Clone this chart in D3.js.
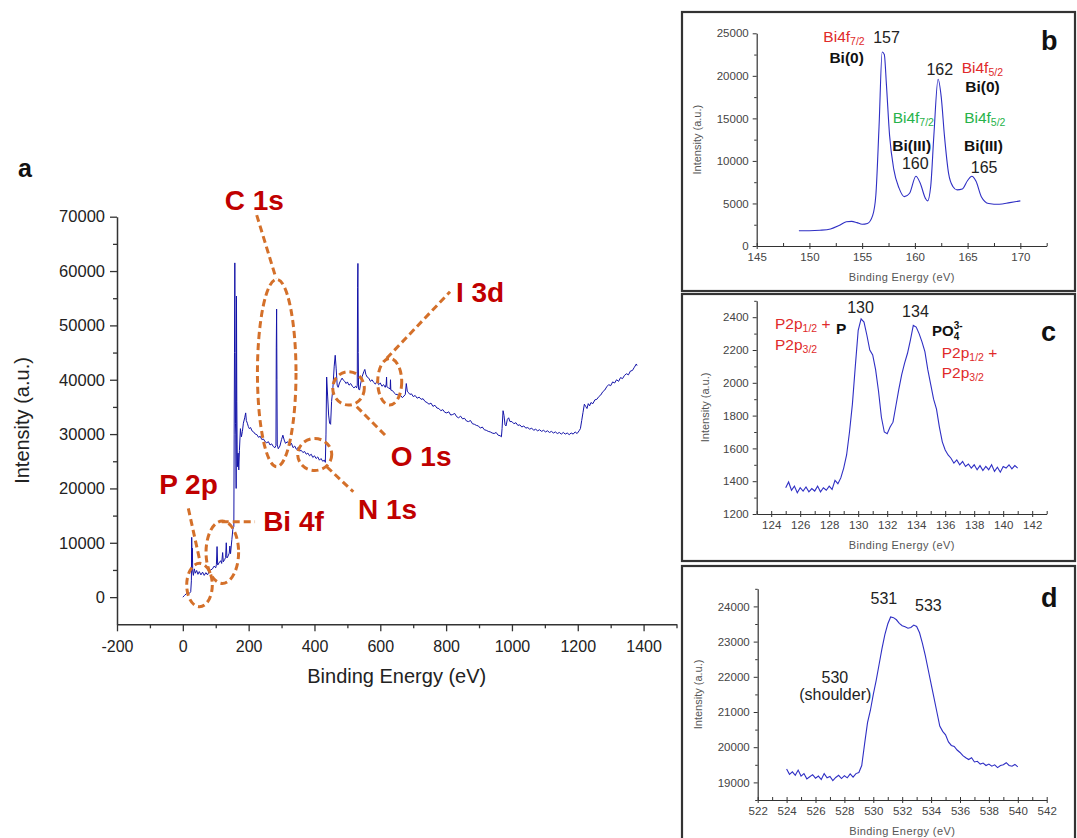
<!DOCTYPE html>
<html><head><meta charset="utf-8">
<script src="https://cdn.jsdelivr.net/npm/d3@7"></script>
<style>
body{margin:0;background:#fff}
svg{display:block;font-family:"Liberation Sans",Arial,sans-serif}
</style>
</head><body>
<svg id="chart" width="1077" height="838"></svg>
<script>
// ---------------- DATA ----------------
// Panel a: XPS survey spectrum [binding energy (eV), intensity (a.u.)]
const survey = [[0,0],[5,300],[10,600],[15,800],[20,700],[24,1000],[26,3000],[27,11000],[28,6500],[29,9000],[30,4800],[32,4000],[35,5200],[38,4400],[42,4900],[46,4200],[50,4700],[55,4100],[60,4600],[65,4000],[70,4500],[75,4100],[80,4700],[85,5000],[90,5200],[95,5700],[100,5400],[102,6000],[104,9300],[106,5900],[110,6300],[115,6700],[118,6200],[121,8200],[123,6500],[127,6900],[130,7300],[132,10000],[134,7200],[138,7600],[141,8100],[143,9400],[145,8000],[149,10600],[152,12500],[155,13000],[156,30000],[157,45000],[158,61500],[159,45000],[160,32000],[161,30000],[162,20000],[163,55400],[164,36000],[165,28000],[166,24000],[168,26500],[170,23400],[172,27000],[175,31000],[178,29500],[181,30500],[184,32000],[188,33000],[191,33900],[193,32500],[196,32000],[199,31400],[202,31000],[206,31200],[210,30600],[215,30400],[220,30000],[225,29900],[230,29400],[235,29600],[240,29000],[245,29100],[250,28600],[255,28400],[260,28600],[265,28000],[270,28200],[275,27700],[280,27500],[283,27900],[284,46000],[285,53000],[286,40000],[287,28000],[290,27300],[295,27800],[300,29000],[304,29800],[308,28900],[312,28300],[318,28600],[325,27900],[330,28300],[335,27500],[340,27800],[345,27200],[350,27500],[355,26900],[360,27000],[365,26600],[370,26800],[375,26300],[380,26500],[385,26000],[390,26300],[395,25700],[400,26000],[405,25500],[410,25800],[415,25200],[420,25500],[425,25000],[430,25200],[433,24800],[435,30000],[437,40500],[440,37000],[443,33500],[446,32000],[449,31800],[452,36000],[456,38500],[460,42500],[463,44500],[466,42000],[469,39000],[472,38600],[476,39400],[480,39900],[484,40300],[488,39900],[492,39700],[496,39300],[500,39600],[505,39000],[510,39300],[515,38800],[520,38500],[525,38800],[528,38500],[530,39000],[531,57000],[532,61400],[533,45000],[534,38300],[537,38100],[540,39200],[545,40600],[550,41500],[553,41900],[556,41000],[560,40500],[565,40300],[570,39700],[575,40000],[580,39500],[585,39200],[590,39700],[595,39100],[600,39400],[605,38800],[610,39100],[615,38600],[618,39200],[619,40500],[620,38700],[625,38500],[630,38300],[631,40000],[632,38100],[637,38000],[642,37600],[647,37300],[652,37300],[657,36900],[662,37100],[667,36700],[672,37000],[676,37300],[679,39300],[682,37900],[686,37600],[690,37300],[695,37400],[700,36900],[706,37100],[712,36600],[718,36800],[724,36400],[730,36500],[736,36000],[742,35800],[748,35500],[754,35700],[760,35100],[766,35300],[772,34800],[778,34700],[784,34300],[790,34500],[796,34000],[802,33900],[808,34100],[814,33500],[820,33600],[826,33800],[832,33200],[838,33000],[844,33300],[850,32800],[856,32900],[862,32400],[868,32300],[874,32500],[880,31900],[886,31800],[892,31600],[898,31500],[904,31100],[910,31300],[916,30800],[922,30700],[928,30500],[934,30400],[940,30200],[946,30100],[952,30300],[958,29800],[964,29700],[968,29500],[970,31000],[973,34300],[976,33400],[979,31700],[982,31500],[986,32700],[990,33000],[994,32300],[1000,32300],[1006,31900],[1012,32100],[1018,31600],[1024,31700],[1030,31300],[1036,31500],[1042,31100],[1048,31200],[1054,30900],[1060,31100],[1066,30700],[1072,30900],[1078,30600],[1084,30800],[1090,30500],[1096,30700],[1102,30400],[1108,30600],[1114,30300],[1120,30500],[1126,30200],[1132,30400],[1138,30100],[1144,30300],[1150,30000],[1156,30300],[1162,30000],[1168,30200],[1174,29900],[1180,30200],[1186,30000],[1192,30400],[1198,30100],[1204,30600],[1208,31000],[1212,32500],[1216,34000],[1220,35500],[1224,35100],[1228,34700],[1232,35600],[1236,35200],[1240,35800],[1246,35600],[1252,36300],[1258,36400],[1264,36900],[1270,37200],[1276,37800],[1282,38100],[1288,38700],[1294,39100],[1300,38900],[1306,39600],[1312,39400],[1318,40000],[1324,39700],[1330,40400],[1336,40200],[1342,40800],[1348,41100],[1354,40900],[1360,41600],[1366,41700],[1372,42300],[1378,42900],[1380,42600]];

const mainXTicks = [-200, 0, 200, 400, 600, 800, 1000, 1200, 1400];
const mainYTicks = [0, 10000, 20000, 30000, 40000, 50000, 60000, 70000];

// Panel a annotations (data units: energy, intensity)
const peakLabels = ["C 1s", "N 1s", "O 1s", "I 3d", "Bi 4f", "P 2p"];
const labelAt   = [[217, 71200], [532, 14400], [632, 24100], [830, 54300], [244, 12150], [-72, 18950]];
const circleAt  = [[285.3, 41235, 58.6, 17240], [400.8, 26240, 51.7, 2944], [503.5, 38420, 48, 3073], [628.6, 39634, 36.5, 4287], [120, 8262, 49.5, 5741], [50.7, 2226, 38.9, 3993]];
const leaderAt  = [[224.5, 70300, 283.2, 58660], [437.2, 23994, 518, 19394], [528.4, 35034, 619.5, 29514], [619.5, 43940, 811.9, 56194], [118.2, 13874, 219.4, 13874], [16.7, 16340, 52.3, 6514]];

// Panel b: Bi 4f high-resolution
const bSpectrum = [[149.0,1800],[150,1800],[151,1850],[152,2000],[152.8,2400],[153.5,2850],[154,2900],[154.5,2750],[155,2550],[155.5,2650],[156,3600],[156.3,6000],[156.6,14000],[156.9,22800],[157.1,22500],[157.3,19000],[157.6,13000],[158,9000],[158.5,6800],[159,5800],[159.5,6200],[160.1,8200],[160.5,7400],[161,5600],[161.2,5300],[161.5,7000],[161.8,13000],[162.2,19600],[162.5,17500],[162.8,13000],[163.2,8500],[163.6,7000],[164,6600],[164.5,6700],[165,7700],[165.4,8200],[165.8,7600],[166.3,5800],[167,5000],[168,4900],[169,5100],[170,5300]];
const bXTicks = [145, 150, 155, 160, 165, 170];
const bYTicks = [0, 5000, 10000, 15000, 20000, 25000];

// Panel c: P 2p high-resolution
const cSpectrum = [[125.0,1360],[125.2,1395],[125.4,1345],[125.6,1370],[125.8,1330],[126.0,1360],[126.2,1340],[126.4,1365],[126.6,1335],[126.8,1355],[127.0,1340],[127.2,1370],[127.4,1335],[127.6,1360],[127.8,1345],[128.0,1370],[128.2,1350],[128.4,1405],[128.6,1385],[128.8,1420],[129.0,1480],[129.2,1560],[129.4,1700],[129.6,1870],[129.8,2100],[130.0,2320],[130.2,2390],[130.4,2370],[130.6,2290],[130.8,2200],[131.0,2170],[131.2,2080],[131.4,1950],[131.6,1790],[131.8,1700],[132.0,1690],[132.2,1730],[132.4,1760],[132.6,1860],[132.8,1960],[133.0,2050],[133.2,2120],[133.4,2180],[133.6,2260],[133.8,2350],[134.0,2340],[134.2,2300],[134.4,2250],[134.6,2190],[134.8,2080],[135.0,1990],[135.2,1900],[135.4,1840],[135.6,1730],[135.8,1640],[136.0,1590],[136.2,1560],[136.4,1540],[136.6,1510],[136.8,1530],[137.0,1500],[137.2,1520],[137.4,1490],[137.6,1505],[137.8,1480],[138.0,1500],[138.2,1470],[138.4,1495],[138.6,1465],[138.8,1490],[139.0,1470],[139.2,1500],[139.4,1460],[139.6,1485],[139.8,1455],[140.0,1490],[140.2,1480],[140.4,1500],[140.6,1475],[140.8,1495],[141.0,1480]];
const cXTicks = [124, 126, 128, 130, 132, 134, 136, 138, 140, 142];
const cYTicks = [1200, 1400, 1600, 1800, 2000, 2200, 2400];

// Panel d: O 1s high-resolution
const dSpectrum = [[524.0,19380],[524.2,19230],[524.4,19300],[524.6,19200],[524.8,19350],[525.0,19180],[525.2,19250],[525.4,19100],[525.6,19160],[525.8,19220],[526.0,19120],[526.2,19180],[526.4,19080],[526.6,19250],[526.8,19130],[527.0,19170],[527.2,19050],[527.4,19140],[527.6,19200],[527.8,19110],[528.0,19190],[528.2,19130],[528.4,19240],[528.6,19150],[528.8,19250],[529.0,19280],[529.2,19480],[529.4,20100],[529.6,20700],[529.8,21050],[530.0,21500],[530.2,21900],[530.4,22350],[530.6,22800],[530.8,23200],[531.0,23500],[531.2,23700],[531.4,23680],[531.6,23620],[531.8,23520],[532.0,23450],[532.2,23420],[532.4,23380],[532.6,23400],[532.8,23470],[533.0,23430],[533.2,23250],[533.4,22950],[533.6,22600],[533.8,22200],[534.0,21800],[534.2,21400],[534.4,21000],[534.6,20600],[534.8,20450],[535.0,20350],[535.2,20150],[535.4,20050],[535.6,20020],[535.8,19920],[536.0,19850],[536.2,19760],[536.4,19700],[536.6,19650],[536.8,19700],[537.0,19580],[537.2,19600],[537.4,19520],[537.6,19550],[537.8,19480],[538.0,19520],[538.2,19460],[538.4,19500],[538.6,19420],[538.8,19480],[539.0,19500],[539.2,19560],[539.4,19480],[539.6,19460],[539.8,19510],[540.0,19440]];
const dXTicks = [522, 524, 526, 528, 530, 532, 534, 536, 538, 540, 542];
const dYTicks = [19000, 20000, 21000, 22000, 23000, 24000];

// Inset annotations: [text-kind, energy, intensity]
const bNotes = [
  {t:"Bi4f|7/2", c:"red", at:[153.28, 23977]},
  {t:"157", c:"num", at:[157.31, 23860]},
  {t:"Bi(0)", c:"bold", at:[153.53, 21544]},
  {t:"162", c:"num", at:[162.36, 20099]},
  {t:"Bi4f|5/2", c:"red", at:[166.4, 20334]},
  {t:"Bi(0)", c:"bold", at:[166.41, 18100]},
  {t:"Bi4f|7/2", c:"green", at:[159.85, 14457]},
  {t:"Bi(III)", c:"bold", at:[159.7, 11166]},
  {t:"160", c:"num", at:[160.04, 9050]},
  {t:"Bi4f|5/2", c:"green", at:[166.63, 14457]},
  {t:"Bi(III)", c:"bold", at:[166.5, 11166]},
  {t:"165", c:"num", at:[166.57, 8580]}
];
const cNotes = [
  {t:"130", c:"num", at:[130.16, 2424]},
  {t:"134", c:"num", at:[133.95, 2401]},
  {t:"P2p|1/2| +", c:"redL", at:[124.26, 2328]},
  {t:"P", c:"boldL", at:[128.47, 2298]},
  {t:"P2p|3/2", c:"redL", at:[124.26, 2200]},
  {t:"PO4", c:"po4", at:[135.09, 2285]},
  {t:"P2p|1/2| +", c:"redL", at:[135.76, 2151]},
  {t:"P2p|3/2", c:"redL", at:[135.76, 2029]}
];
const dNotes = [
  {t:"531", c:"num", at:[530.73, 24068]},
  {t:"533", c:"num", at:[533.81, 23869]},
  {t:"530", c:"num", at:[527.34, 21824]},
  {t:"(shoulder)", c:"num", at:[527.37, 21341]}
];

// ---------------- DRAW ----------------
const svg = d3.select("#chart");
svg.append("rect").attr("width", 1077).attr("height", 838).attr("fill", "#fff");

const AXIS = "#333";
const ORANGE = "#d4702a";
const DARKRED = "#c00000";

// ----- Panel a -----
const x = d3.scaleLinear([-200, 1500], [117, 676.5]);
const y = d3.scaleLinear([-5000, 70000], [624.3, 216.7]);

function styleAxis(g, fs, col) {
  g.select(".domain").attr("stroke", AXIS).attr("stroke-width", 1.5);
  g.selectAll(".tick line").attr("stroke", AXIS).attr("stroke-width", 1.3);
  g.selectAll(".tick text").attr("font-size", fs).attr("fill", col).attr("font-family", '"Liberation Sans",Arial,sans-serif');
}

const gxMinor = svg.append("g").attr("transform", `translate(0,${y(-5000)})`)
  .call(d3.axisBottom(x).tickValues(d3.range(-100, 1501, 200)).tickSize(4).tickFormat(""));
gxMinor.select(".domain").remove();
gxMinor.selectAll(".tick line").attr("stroke", AXIS).attr("stroke-width", 1.3);
const gx = svg.append("g").attr("transform", `translate(0,${y(-5000)})`)
  .call(d3.axisBottom(x).tickValues(mainXTicks).tickSize(7).tickPadding(9).tickSizeOuter(0).tickFormat(d => String(d)));
styleAxis(gx, 16, "#222");

const gyMinor = svg.append("g").attr("transform", `translate(${x(-200)},0)`)
  .call(d3.axisLeft(y).tickValues(d3.range(5000, 70000, 10000)).tickSize(4).tickFormat(""));
gyMinor.select(".domain").remove();
gyMinor.selectAll(".tick line").attr("stroke", AXIS).attr("stroke-width", 1.3);
const gy = svg.append("g").attr("transform", `translate(${x(-200)},0)`)
  .call(d3.axisLeft(y).tickValues(mainYTicks).tickSize(7).tickPadding(5).tickSizeOuter(0).tickFormat(d => String(d)));
styleAxis(gy, 16.5, "#222");

svg.append("text").attr("x", (x(-200) + x(1500)) / 2).attr("y", 683).attr("text-anchor", "middle")
  .attr("font-size", 20).attr("fill", "#222").text("Binding Energy (eV)");
svg.append("text").attr("transform", `translate(29,${(y(-5000) + y(70000)) / 2}) rotate(-90)`).attr("text-anchor", "middle")
  .attr("font-size", 20).attr("fill", "#222").text("Intensity (a.u.)");
svg.append("text").attr("x", 18).attr("y", 177).attr("font-size", 25).attr("font-weight", "bold").attr("fill", "#111").text("a");

const line = d3.line().x(d => x(d[0])).y(d => y(d[1]));
svg.append("path").datum(survey).attr("d", line).attr("fill", "none")
  .attr("stroke", "#1414a8").attr("stroke-width", 1).attr("stroke-linejoin", "round");

// annotations
const ann = svg.append("g");
circleAt.forEach(c => {
  ann.append("ellipse").attr("cx", x(c[0])).attr("cy", y(c[1]))
    .attr("rx", x(c[0] + c[2]) - x(c[0])).attr("ry", y(c[1]) - y(c[1] + c[3]))
    .attr("fill", "none").attr("stroke", ORANGE).attr("stroke-width", 3).attr("stroke-dasharray", "7,4");
});
leaderAt.forEach(l => {
  ann.append("line").attr("x1", x(l[0])).attr("y1", y(l[1])).attr("x2", x(l[2])).attr("y2", y(l[3]))
    .attr("stroke", ORANGE).attr("stroke-width", 3).attr("stroke-dasharray", "7,4");
});
peakLabels.forEach((t, i) => {
  ann.append("text").attr("x", x(labelAt[i][0])).attr("y", y(labelAt[i][1]))
    .attr("text-anchor", i === 0 ? "middle" : "start")
    .attr("font-size", 28).attr("font-weight", "bold").attr("fill", DARKRED).text(t);
});

// ----- Insets -----
function drawInset(o) {
  svg.append("rect").attr("x", 682).attr("y", o.boxTop).attr("width", 393).attr("height", o.boxH)
    .attr("fill", "none").attr("stroke", "#333").attr("stroke-width", 2.2);
  const xs = d3.scaleLinear(o.xDomain, [o.x0, o.x1]);
  const ys = d3.scaleLinear(o.yDomain, [o.yB, o.yT]);

  const mx = svg.append("g").attr("transform", `translate(0,${o.yB})`)
    .call(d3.axisBottom(xs).tickValues(o.xMinor).tickSize(-3).tickFormat(""));
  mx.select(".domain").remove();
  mx.selectAll(".tick line").attr("stroke", AXIS);
  const my = svg.append("g").attr("transform", `translate(${o.x0},0)`)
    .call(d3.axisLeft(ys).tickValues(o.yMinor).tickSize(2.5).tickFormat(""));
  my.select(".domain").remove();
  my.selectAll(".tick line").attr("stroke", AXIS);

  const gx = svg.append("g").attr("transform", `translate(0,${o.yB})`)
    .call(d3.axisBottom(xs).tickValues(o.xTicks).tickSize(3).tickPadding(4).tickSizeOuter(0).tickFormat(d => String(d)));
  gx.select(".domain").attr("stroke", AXIS).attr("stroke-width", 1.2);
  gx.selectAll(".tick line").attr("stroke", AXIS).attr("y1", -3);
  gx.selectAll(".tick text").attr("font-size", 11.5).attr("fill", "#444").attr("font-family", '"Liberation Sans",Arial,sans-serif');
  const gy = svg.append("g").attr("transform", `translate(${o.x0},0)`)
    .call(d3.axisLeft(ys).tickValues(o.yTicks).tickSize(4).tickPadding(4).tickSizeOuter(0).tickFormat(d => String(d)));
  gy.select(".domain").attr("stroke", AXIS).attr("stroke-width", 1.2);
  gy.selectAll(".tick line").attr("stroke", AXIS);
  gy.selectAll(".tick text").attr("font-size", 11.5).attr("fill", "#444").attr("font-family", '"Liberation Sans",Arial,sans-serif');

  svg.append("text").attr("x", (o.x0 + o.x1) / 2).attr("y", o.yB + 35).attr("text-anchor", "middle")
    .attr("font-size", 11).attr("fill", "#555").attr("letter-spacing", 0.4).text("Binding Energy (eV)");
  svg.append("text").attr("transform", `translate(${o.titleX},${(o.yB + o.yT) / 2}) rotate(-90)`).attr("text-anchor", "middle")
    .attr("font-size", 11).attr("fill", "#555").text("Intensity (a.u.)");
  svg.append("text").attr("x", 1041).attr("y", o.boxTop + o.letterDy).attr("font-size", 27).attr("font-weight", "bold")
    .attr("fill", "#111").text(o.letter);

  svg.append("path").datum(o.data)
    .attr("d", d3.line().x(d => xs(d[0])).y(d => ys(d[1])).curve(o.smooth ? d3.curveMonotoneX : d3.curveLinear))
    .attr("fill", "none").attr("stroke", "#2f2fc4").attr("stroke-width", 1.1);

  o.notes.forEach(n => {
    const tx = svg.append("text").attr("x", xs(n.at[0])).attr("y", ys(n.at[1]));
    const parts = n.t.split("|");
    if (n.c === "num") {
      tx.attr("text-anchor", "middle").attr("font-size", 16).attr("fill", "#222").text(n.t);
    } else if (n.c === "bold" || n.c === "boldL") {
      tx.attr("text-anchor", n.c === "bold" ? "middle" : "start").attr("font-size", 15.5).attr("font-weight", "bold").attr("fill", "#111").text(n.t);
    } else if (n.c === "po4") {
      tx.attr("font-size", 15).attr("font-weight", "bold").attr("fill", "#111");
      tx.append("tspan").text("PO");
      tx.append("tspan").attr("font-size", 10).attr("dy", 4).text("4");
      tx.append("tspan").attr("font-size", 10).attr("dx", -5.5).attr("dy", -11).text("3-");
    } else {
      const col = n.c === "green" ? "#27b34a" : "#e02a2a";
      tx.attr("text-anchor", n.c === "redL" ? "start" : "middle").attr("font-size", 15.5).attr("fill", col);
      tx.append("tspan").text(parts[0]);
      tx.append("tspan").attr("font-size", 10.5).attr("dy", 3).text(parts[1]);
      if (parts[2]) tx.append("tspan").attr("dy", -3).text(parts[2]);
    }
  });
}

drawInset({
  boxTop: 12, boxH: 279, letter: "b", letterDy: 38,
  xDomain: [145, 172.5], yDomain: [0, 25000], x0: 756.7, x1: 1046.7, yB: 246, yT: 33.3,
  xTicks: bXTicks, yTicks: bYTicks, xMinor: d3.range(147.5, 173, 5), yMinor: d3.range(2500, 25000, 5000),
  titleX: 701, data: bSpectrum, smooth: true, notes: bNotes
});
drawInset({
  boxTop: 294, boxH: 267, letter: "c", letterDy: 47,
  xDomain: [123, 143], yDomain: [1200, 2500], x0: 756.7, x1: 1046.7, yB: 514, yT: 300.8,
  xTicks: cXTicks, yTicks: cYTicks, xMinor: d3.range(123, 144, 2), yMinor: d3.range(1300, 2501, 200),
  titleX: 709, data: cSpectrum, smooth: false, notes: cNotes
});
drawInset({
  boxTop: 566, boxH: 290, letter: "d", letterDy: 41,
  xDomain: [522, 542], yDomain: [18500, 24500], x0: 757.7, x1: 1046.7, yB: 800, yT: 588.8,
  xTicks: dXTicks, yTicks: dYTicks, xMinor: d3.range(523, 542, 2), yMinor: d3.range(18500, 24501, 1000),
  titleX: 702, data: dSpectrum, smooth: false, notes: dNotes
});
</script>
</body></html>
